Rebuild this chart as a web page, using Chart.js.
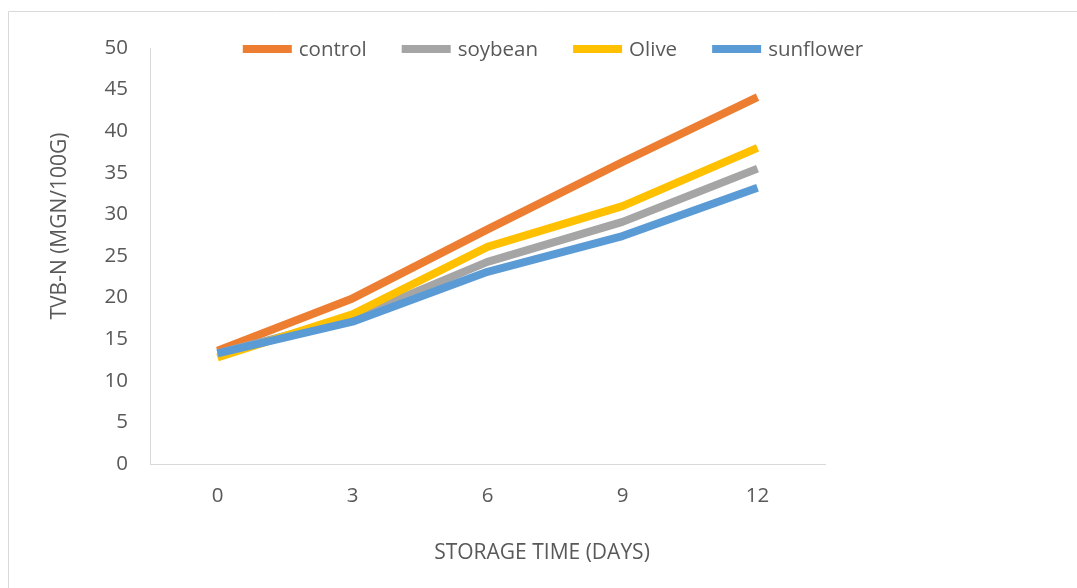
<!DOCTYPE html>
<html>
<head>
<meta charset="utf-8">
<script src="https://cdn.jsdelivr.net/npm/chart.js@4"></script>
<style>
  html, body { margin: 0; padding: 0; background: #fff; }
  #wrap { width: 1077px; height: 588px; }
</style>
</head>
<body>
<div id="wrap"><canvas id="myChart" width="1077" height="588"></canvas></div>
<script>
// storage days on the x axis
let days = ["0", "3", "6", "9", "12"];

// TVB-N values
let control = [13.6, 19.9, 28.2, 36.3, 44.1];
let soybean = [13.3, 17.5, 24.3, 29.1, 35.5];
let olive = [12.8, 18.0, 26.1, 31.0, 38.0];
let sunflower = [13.3, 17.1, 23.1, 27.4, 33.2];

let seriesNames = ["control", "soybean", "Olive", "sunflower"];
let seriesColors = ["#ED7D31", "#A5A5A5", "#FFC000", "#5B9BD5"];

let yMin = 0, yMax = 50, yStep = 5;

let xTitle = "STORAGE TIME (DAYS)";
let yTitle = "TVB-N (MGN/100G)";

let textColor = "#595959";
let fontName = "'Open Sans', 'Liberation Sans', sans-serif";

// outer frame of the figure (only top and left are visible)
const framePlugin = {
  id: "frame",
  beforeDraw(chart) {
    const ctx = chart.ctx;
    ctx.save();
    ctx.strokeStyle = "#d9d9d9";
    ctx.lineWidth = 1;
    ctx.beginPath();
    ctx.moveTo(8.5, 588);
    ctx.lineTo(8.5, 11.5);
    ctx.lineTo(1077, 11.5);
    ctx.stroke();
    ctx.restore();
  }
};

// legend + axis titles drawn by hand so the placement matches
const textPlugin = {
  id: "lineLegend",
  afterDraw(chart) {
    const ctx = chart.ctx;
    const lineW = 49, gapText = 7, gapItem = 35, y = 49, centerX = 553;
    ctx.save();
    ctx.font = "20.5px " + fontName;
    ctx.textBaseline = "middle";
    let widths = seriesNames.map(n => ctx.measureText(n).width);
    let total = 0;
    widths.forEach((w, i) => {
      total += lineW + gapText + w;
      if (i < widths.length - 1) total += gapItem;
    });
    let x = centerX - total / 2;
    chart.data.datasets.forEach((ds, i) => {
      ctx.strokeStyle = ds.borderColor;
      ctx.lineWidth = 8;
      ctx.beginPath();
      ctx.moveTo(x, y);
      ctx.lineTo(x + lineW, y);
      ctx.stroke();
      ctx.fillStyle = textColor;
      ctx.fillText(ds.label, x + lineW + gapText, y + 1);
      x += lineW + gapText + widths[i] + gapItem;
    });

    // axis titles
    ctx.font = "21px " + fontName;
    ctx.fillStyle = textColor;
    ctx.textAlign = "center";
    ctx.fillText(xTitle, 542, 553);
    ctx.translate(60, 226);
    ctx.rotate(-Math.PI / 2);
    ctx.fillText(yTitle, 0, 0);
    ctx.restore();
  }
};

let allData = [control, soybean, olive, sunflower];
let datasets = allData.map((vals, i) => ({
  label: seriesNames[i],
  data: vals,
  borderColor: seriesColors[i],
  backgroundColor: seriesColors[i],
  borderWidth: 8,
  pointRadius: 0,
  tension: 0,
  borderJoinStyle: "round",
  order: allData.length - 1 - i   // sunflower ends up on top
}));

var ctx = document.getElementById("myChart").getContext("2d");
var myChart = new Chart(ctx, {
  type: "line",
  data: {
    labels: days,
    datasets: datasets
  },
  options: {
    responsive: false,
    animation: false,
    events: [],
    layout: {
      padding: { top: 48, left: 58, right: 252, bottom: 25 }
    },
    plugins: {
      legend: { display: false },
      tooltip: { enabled: false }
    },
    scales: {
      x: {
        offset: true,
        grid: { display: false, drawTicks: false },
        border: { display: true, color: "#d9d9d9", width: 1 },
        ticks: { color: textColor, font: { size: 20.5, family: fontName }, padding: 20 },
        afterFit(scale) { scale.height = 99; }
      },
      y: {
        min: yMin,
        max: yMax,
        grid: { display: false, drawTicks: false },
        border: { display: true, color: "#d9d9d9", width: 1 },
        ticks: { stepSize: yStep, color: textColor, font: { size: 20.5, family: fontName }, padding: 22 },
        afterFit(scale) { scale.width = 92; }
      }
    }
  },
  plugins: [framePlugin, textPlugin]
});
</script>
</body>
</html>
